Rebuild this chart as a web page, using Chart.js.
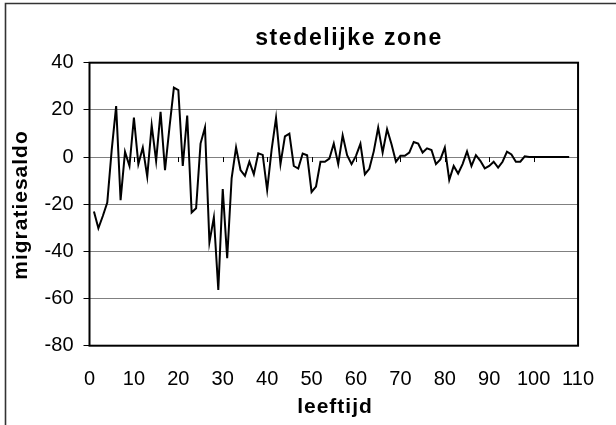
<!DOCTYPE html>
<html>
<head>
<meta charset="utf-8">
<script src="https://cdn.jsdelivr.net/npm/chart.js@4"></script>
<style>
  html, body { margin: 0; padding: 0; background: #fff; }
  #wrap { width: 616px; height: 425px; }
</style>
</head>
<body>
<div id="wrap"><canvas id="migChart" width="616" height="425"></canvas></div>
<script>
const chartTitle = 'stedelijke zone';
const xTitle = 'leeftijd';
const yTitle = 'migratiesaldo';

// leeftijd (age)
const ages = [1, 2, 3, 4, 5, 6, 7, 8, 9, 10,
  11, 12, 13, 14, 15, 16, 17, 18, 19, 20,
  21, 22, 23, 24, 25, 26, 27, 28, 29, 30,
  31, 32, 33, 34, 35, 36, 37, 38, 39, 40,
  41, 42, 43, 44, 45, 46, 47, 48, 49, 50,
  51, 52, 53, 54, 55, 56, 57, 58, 59, 60,
  61, 62, 63, 64, 65, 66, 67, 68, 69, 70,
  71, 72, 73, 74, 75, 76, 77, 78, 79, 80,
  81, 82, 83, 84, 85, 86, 87, 88, 89, 90,
  91, 92, 93, 94, 95, 96, 97, 98, 99, 100,
  101, 102, 103, 104, 105, 106, 107, 108];

// migratiesaldo per age
const saldo = [-23.1, -30.2, -25, -19.3, 3, 21.6, -18.3, 2.2, -3.8, 16.7,
  -3, 4, -8.3, 13.5, -1.6, 19.2, -5.6, 12.5, 29.4, 28.4,
  -3.8, 17.6, -23.5, -21.7, 5.7, 12.5, -36.2, -25.6, -56.4, -13.6,
  -42.9, -9, 4.1, -5.5, -8, -2, -7.3, 1.6, 0.9, -14,
  3, 16.6, -3, 8.8, 9.9, -3.8, -4.9, 1.5, 0.75, -14.8,
  -12.5, -2, -2, -0.7, 5.7, -3, 9.2, 0.75, -3, 0.5,
  5.6, -7.3, -5, 2.4, 12.5, 1.9, 11.8, 5.4, -2, 0.5,
  0.5, 1.9, 6.4, 5.7, 1.9, 3.7, 3, -3, -1, 4,
  -9.7, -3.8, -7, -3, 2.4, -3.8, 0.8, -1.6, -4.8, -3.8,
  -2, -4.5, -2, 2.3, 1.1, -2, -2, 0.3, 0, 0,
  0, 0, 0, 0, 0, 0, 0, 0];

const yMin = -80, yMax = 40, yStep = 20;
const xMin = 0, xMax = 110, xStep = 10;

const font = "'Liberation Sans', Arial, sans-serif";

// frame, plot border, the little ticks on the zero line and the titles
const decor = {
  id: 'decor',
  beforeDraw(chart) {
    const ctx = chart.ctx;
    ctx.save();
    ctx.fillStyle = '#fff';
    ctx.fillRect(0, 0, chart.width, chart.height);
    ctx.strokeStyle = '#333';
    ctx.lineWidth = 1.6;
    ctx.beginPath();
    ctx.moveTo(5.5, chart.height);
    ctx.lineTo(5.5, 3.5);
    ctx.lineTo(chart.width, 3.5);
    ctx.stroke();
    ctx.restore();
  },
  beforeDatasetsDraw(chart) {
    const ctx = chart.ctx;
    const a = chart.chartArea;
    const xs = chart.scales.x, ys = chart.scales.y;
    ctx.save();
    ctx.strokeStyle = '#000';
    ctx.lineWidth = 1;
    const y0 = ys.getPixelForValue(0);
    ctx.beginPath();
    xs.ticks.forEach(t => {
      if (t.value > xMin && t.value < xMax) {
        const px = Math.round(xs.getPixelForValue(t.value)) + 0.5;
        ctx.moveTo(px, y0);
        ctx.lineTo(px, y0 + 5);
      }
    });
    ctx.stroke();
    ctx.lineWidth = 2;
    ctx.strokeRect(a.left, a.top, a.right - a.left, a.bottom - a.top);
    ctx.restore();
  },
  afterDraw(chart) {
    const ctx = chart.ctx;
    ctx.save();
    ctx.fillStyle = '#000';
    ctx.textAlign = 'center';
    ctx.textBaseline = 'alphabetic';

    ctx.font = 'bold 23px ' + font;
    ctx.letterSpacing = '1.6px';
    ctx.fillText(chartTitle, 349, 45);

    ctx.font = 'bold 21px ' + font;
    ctx.letterSpacing = '1px';
    ctx.fillText(xTitle, 335, 413);

    ctx.translate(21.5, 205);
    ctx.rotate(-Math.PI / 2);
    ctx.textBaseline = 'middle';
    ctx.fillText(yTitle, 0, 0);
    ctx.restore();
  }
};

new Chart(document.getElementById('migChart'), {
  type: 'line',
  data: {
    datasets: [{
      label: 'migratiesaldo',
      data: ages.map((a, i) => ({ x: a, y: saldo[i] })),
      borderColor: '#000',
      borderWidth: 2,
      pointRadius: 0,
      tension: 0,
      fill: false
    }]
  },
  options: {
    responsive: false,
    animation: false,
    devicePixelRatio: 1,
    layout: { padding: { top: 62.7, right: 34, left: 0, bottom: 0 } },
    plugins: {
      legend: { display: false },
      title: { display: false },
      tooltip: { enabled: false }
    },
    scales: {
      x: {
        type: 'linear',
        min: xMin, max: xMax,
        border: { display: false },
        grid: { display: false, drawTicks: false },
        ticks: {
          stepSize: xStep,
          color: '#000',
          padding: 22,
          maxRotation: 0,
          font: { family: font, size: 20 }
        },
        afterFit(scale) { scale.height = 79.3; }
      },
      y: {
        min: yMin, max: yMax,
        border: { display: false },
        grid: {
          color: ctx => (ctx.tick && (ctx.tick.value === yMin || ctx.tick.value === yMax)) ? 'rgba(0,0,0,0)' : '#808080',
          lineWidth: 1,
          drawTicks: true,
          tickLength: 6,
          tickColor: '#000'
        },
        ticks: {
          stepSize: yStep,
          color: '#000',
          padding: 10,
          font: { family: font, size: 20 }
        },
        afterFit(scale) { scale.width = 89.5; }
      }
    }
  },
  plugins: [decor]
});
</script>
</body>
</html>
